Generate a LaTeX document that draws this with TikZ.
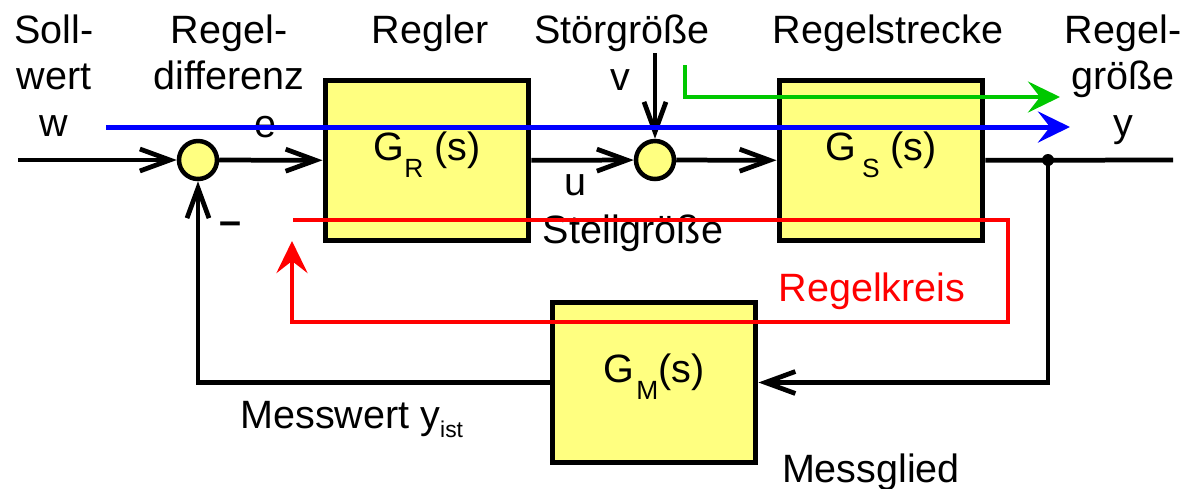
\documentclass[tikz,border=0pt]{standalone}
\usepackage{fontspec}
\setmainfont{Liberation Sans}
\usetikzlibrary{arrows.meta,positioning}
\definecolor{blockyellow}{RGB}{255,255,128}
\definecolor{pathblue}{RGB}{0,0,255}
\definecolor{pathgreen}{RGB}{0,200,0}
\definecolor{pathred}{RGB}{255,0,0}
\newcommand{\blocksub}[1]{\raisebox{-0.33cm}{\fontsize{15}{15}\selectfont #1}}
\tikzset{
  block/.style ={rectangle, draw=black, fill=blockyellow, line width=0.1cm,
                 minimum width=4.08cm, minimum height=3.22cm, inner sep=0pt,
                 text height=0.5cm, text depth=0.5cm,
                 font=\fontsize{22.5}{26.6}\selectfont},
  summ/.style  ={circle, draw=black, fill=blockyellow, line width=0.09cm,
                 minimum size=0.76cm, inner sep=0pt},
  lbl/.style   ={inner sep=0pt, align=center, font=\fontsize{22.5}{26.6}\selectfont},
  wire/.style  ={line width=0.095cm},
  sig/.style   ={wire, -{Straight Barb[length=0.6cm,width=0.44cm]}},
  tour/.style  ={line width=0.09cm, -{Stealth[length=0.64cm,width=0.62cm,inset=0.24cm]}},
}

\begin{document}
\begin{tikzpicture}[x=0.02cm, y=-0.02cm]
  \useasboundingbox (0,0) rectangle (1184,488);
  % Bloecke
  \node[block] (GR) at (427,160.5) {G\blocksub{R} (s)};
  \node[block] (GS) at (881,160.5) {G\hspace{0.12cm}\blocksub{S} (s)};
  \node[block] (GM) at (654,382.5) {G\hspace{0.04cm}\blocksub{M}(s)};
  \node[summ]  (sumw) at (198,160) {};
  \node[summ]  (sumv) at (655,160) {};
  \node[circle, fill=black, inner sep=0pt, minimum size=0.24cm] (jct) at (1048,160) {};
  \coordinate (win)  at (18,160);
  \coordinate (vin)  at (655,53);
  \coordinate (yout) at (1173,160);
  % Signalfluss
  \draw[sig]  (win) -- (sumw);
  \draw[sig]  (sumw) -- (GR);
  \draw[sig]  (GR) -- (sumv);
  \draw[sig]  (vin) -- (sumv);
  \draw[sig]  (sumv) -- (GS);
  \draw[wire] (GS) -- (yout);
  \draw[sig]  (jct.center) |- (GM);
  \draw[sig]  (GM) -| (sumw);
  % Beschriftungen
  \node[lbl, anchor=north] (soll)   at (54,14)   {Soll-\\wert\\w};
  \node[lbl, anchor=north] (rdiff)  at (229,14)  {Regel-\\differenz};
  \node[lbl, anchor=base]  (elbl)   at (265,137) {e};
  \node[lbl, anchor=base]  (regler) at (430,43)  {Regler};
  \node[lbl, anchor=base]  (stoer)  at (622,43)  {Störgröße};
  \node[lbl, anchor=base]  (vlbl)   at (620,90)  {v};
  \node[lbl, anchor=base]  (ulbl)   at (575,195) {u};
  \node[lbl, anchor=base]  (stell)  at (633,243) {Stellgröße};
  \node[lbl, anchor=base]  (strecke) at (888,43) {Regelstrecke};
  \node[lbl, anchor=north] (rgroe)  at (1123,14) {Regel-\\größe\\y};
  \node[lbl, anchor=base]  (minus)  at (230,234) {\textbf{–}};
  \node[lbl, anchor=base west] (mess) at (240,428)
    {Messwert y\raisebox{-0.18cm}{\fontsize{13}{13}\selectfont ist}};
  \node[lbl, anchor=base]  (mglied) at (871,482) {Messglied};
  \node[lbl, anchor=base, text=pathred] (kreis) at (872,301) {Regelkreis};
  % Wirkungswege
  \coordinate (bS) at (106,127);
  \coordinate (bE) at (1070,127);
  \coordinate (gS) at (685,65);
  \coordinate (gE) at (1060,97);
  \coordinate (rS) at (293,220);
  \coordinate (r1) at (1008,220);
  \coordinate (r2) at (1008,322);
  \coordinate (r3) at (292,322);
  \coordinate (rE) at (292,241);
  \draw[tour, draw=pathblue, line width=0.1cm] (bS) -- (bE);
  \draw[tour, draw=pathgreen] (gS) |- (gE);
  \draw[tour, draw=pathred] (rS) -- (r1) -- (r2) -- (r3) -- (rE);
\end{tikzpicture}
\end{document}
